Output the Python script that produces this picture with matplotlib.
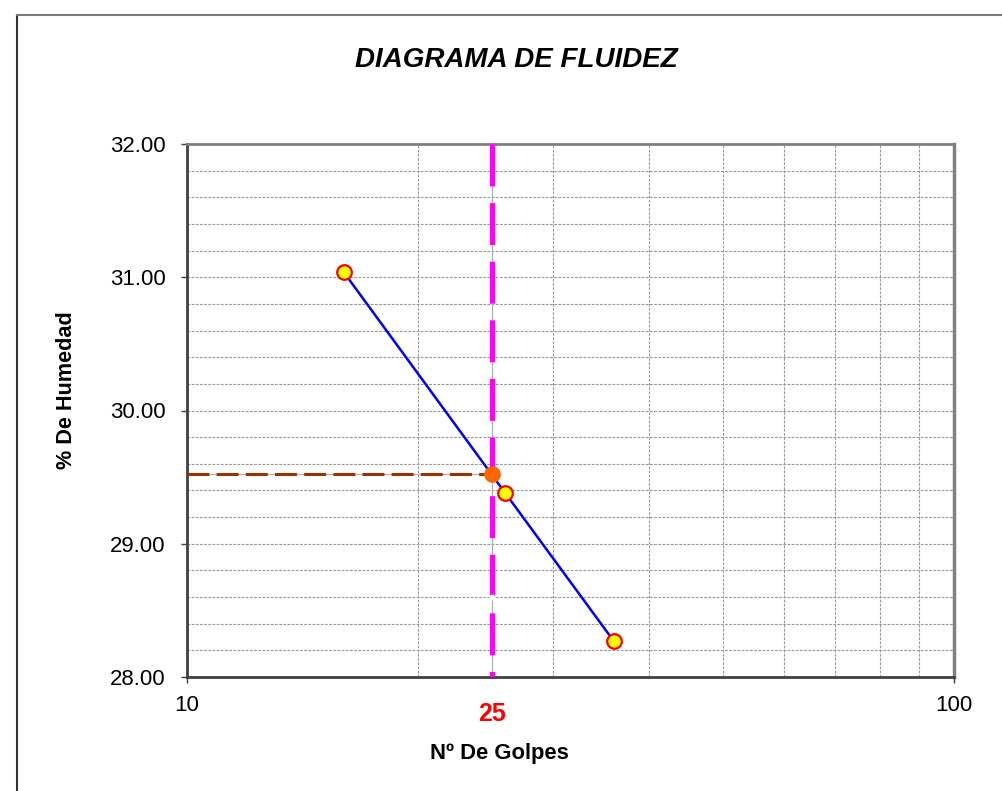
import matplotlib
matplotlib.use('Agg')
import matplotlib.pyplot as plt
from matplotlib.lines import Line2D
from matplotlib import transforms

plt.rcParams['font.family'] = ['Liberation Sans', 'DejaVu Sans']
plt.rcParams['lines.scale_dashes'] = False

# ---- data ----
golpes = [16, 26, 36]
humedad = [31.04, 29.38, 28.27]
n_ref = 25
ll_value = 29.52
aux_y = [28.6]
x_ticks = [10, 100]
x_tick_labels = ['10', '100']
y_ticks = [28, 29, 30, 31, 32]
y_tick_labels = ['28.00', '29.00', '30.00', '31.00', '32.00']
x_grid = [20, 30, 40, 50, 60, 70, 80, 90]
y_grid = [28.2, 28.4, 28.6, 28.8, 29.0, 29.2, 29.4, 29.6, 29.8, 30.0,
          30.2, 30.4, 30.6, 30.8, 31.0, 31.2, 31.4, 31.6, 31.8]

W, H = 1002, 791
fig = plt.figure(figsize=(W / 100, H / 100), dpi=100)
fig.patch.set_facecolor('white')

L, R, T, B = 187, 954, 144, 677
ax = fig.add_axes([L / W, 1 - B / H, (R - L) / W, (B - T) / H])
ax.set_xscale('log')
ax.set_xlim(10, 100)
ax.set_ylim(28, 32)

# grid
for gx in x_grid:
    ax.axvline(gx, color='#999999', lw=0.8, ls=(0, (2, 1)), zorder=1)
for gy in y_grid:
    ax.axhline(gy, color='#999999', lw=0.8, ls=(0, (2, 1)), zorder=1)

# reference lines
ax.plot([n_ref, n_ref], [32, 28], color='#b0b0b0', lw=0.9, zorder=2)
ax.plot([n_ref, n_ref], [32, 28], color='#FF00FF', lw=3.6, dashes=(30.2, 12.0),
        solid_capstyle='butt', dash_capstyle='butt', zorder=3)
ax.plot([n_ref] * len(aux_y), aux_y, 'o', ms=3.2, mfc='white', mec='white', zorder=4)
ax.plot([10, n_ref], [ll_value, ll_value], color='#b0b0b0', lw=0.9, zorder=2)
ax.plot([10, n_ref], [ll_value, ll_value], color='#993300', lw=2.2, dashes=(15.8, 5.2),
        dash_capstyle='butt', zorder=3)

# data
ax.plot(golpes, humedad, color='#0000FF', lw=1.8, zorder=5)
ax.plot(golpes, humedad, 'o', ms=10.5, mfc='#FFFF00', mec='#FF0000', mew=1.6, zorder=6)
ax.plot([n_ref], [ll_value], 'o', ms=11, mfc='#FF6600', mec='#FF6600', zorder=6)

# ticks
ax.set_xticks(x_ticks)
ax.set_xticklabels(x_tick_labels)
ax.xaxis.set_minor_locator(matplotlib.ticker.NullLocator())
ax.set_yticks(y_ticks)
ax.set_yticklabels(y_tick_labels)
ax.tick_params(axis='both', direction='out', length=4.3, width=1, color='#404040',
               labelsize=16, labelcolor='black')
ax.tick_params(axis='y', pad=11)
ax.tick_params(axis='x', pad=9)

for side, c, lw in [('left', '#404040', 2), ('bottom', '#404040', 2),
                    ('top', '#808080', 2), ('right', '#808080', 2.5)]:
    ax.spines[side].set_color(c)
    ax.spines[side].set_linewidth(lw)

# texts
fig.text(516 / W, 1 - 60 / H, 'DIAGRAMA DE FLUIDEZ', ha='center', va='center',
         fontsize=20, fontweight='bold', fontstyle='italic')
fig.text(499 / W, 1 - 753 / H, 'Nº De Golpes', ha='center', va='center',
         fontsize=15.8, fontweight='bold')
fig.text(67 / W, 1 - 390 / H, '% De Humedad', ha='center', va='center',
         rotation=90, fontsize=15.6, fontweight='bold')
trans = transforms.blended_transform_factory(ax.transData, fig.transFigure)
ax.text(n_ref, 1 - 714 / H, str(n_ref), transform=trans, ha='center', va='center',
        fontsize=18, fontweight='bold', color='#FF0000')

# outer chart-area border
fig.add_artist(Line2D([17 / W, 17 / W], [0, 1 - 15 / H], transform=fig.transFigure,
                      color='#333333', lw=1.5))
fig.add_artist(Line2D([17 / W, 1], [1 - 15 / H, 1 - 15 / H], transform=fig.transFigure,
                      color='#7a7a7a', lw=1.5))

fig.savefig('out.png', dpi=100)
